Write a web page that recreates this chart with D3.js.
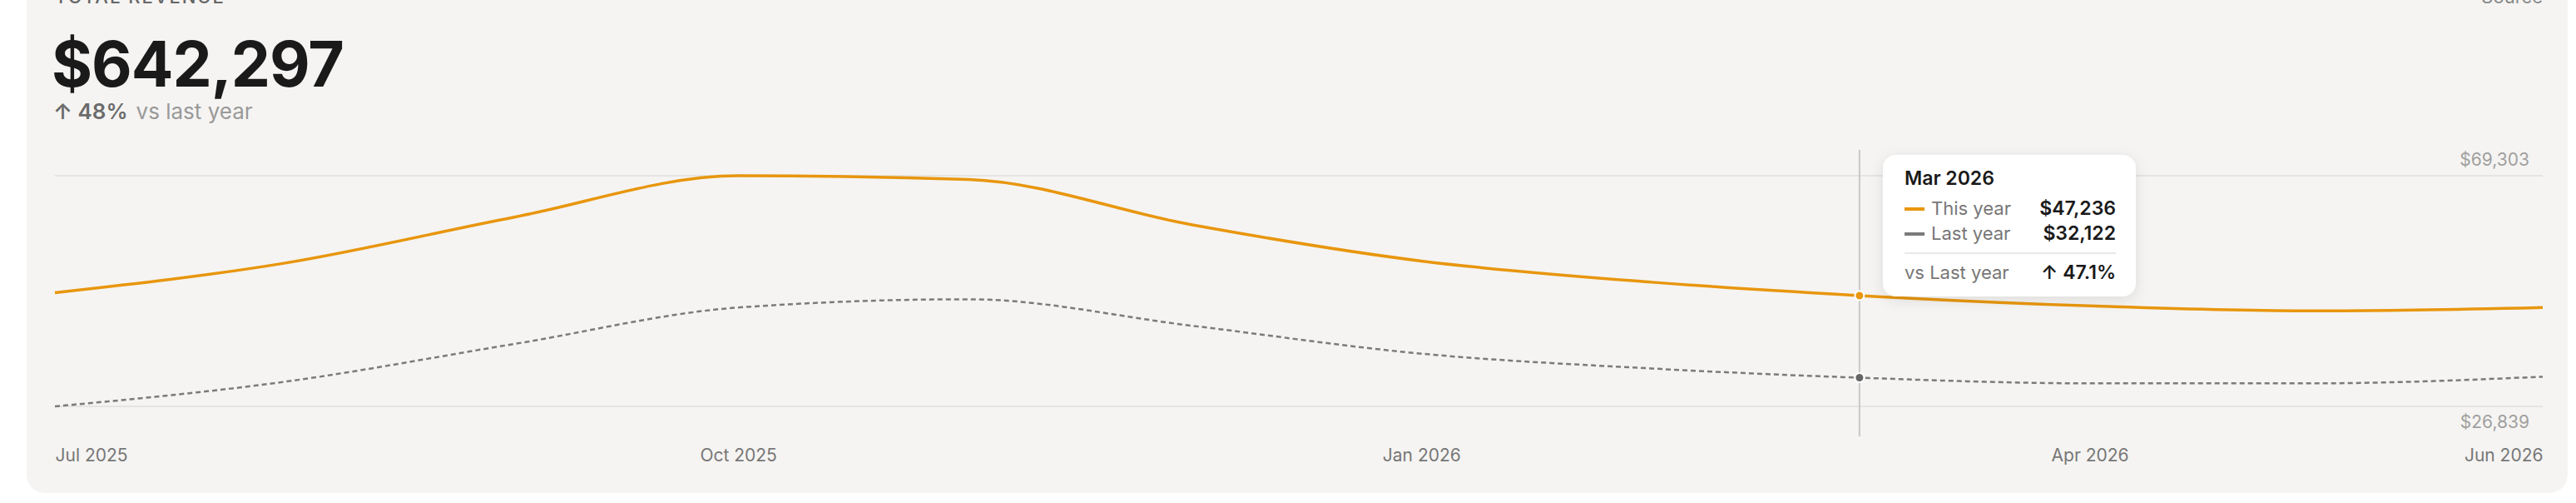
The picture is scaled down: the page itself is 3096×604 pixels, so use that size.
<!DOCTYPE html>
<html>
<head>
<meta charset="utf-8">
<script src="https://cdn.jsdelivr.net/npm/d3@7"></script>
<style>
  body { margin: 0; background: #fff; font-family: Inter, "Noto Sans", sans-serif; }
</style>
</head>
<body>
<svg id="chart" width="3096" height="604"></svg>
<script>
// DATA
const months = ['2025-07','2025-08','2025-09','2025-10','2025-11','2025-12','2026-01','2026-02','2026-03','2026-04','2026-05','2026-06'];
const thisYear = [47768, 53228, 61720, 69303, 68600, 60300, 53600, 49700, 47236, 45342, 44433, 45040];
const lastYear = [26839, 31390, 38366, 45040, 46556, 41704, 36547, 33818, 32122, 31087, 31087, 32300];
const tickMonths = ['2025-07','2025-10','2026-01','2026-04','2026-06'];
const totalRevenue = 642297;
const growthPct = 48;
const hoverIndex = 8;

const parse = d3.timeParse('%Y-%m');
const fmtMonth = d3.timeFormat('%b %Y');
const fmtMoney = v => '$' + d3.format(',')(v);

const svg = d3.select('#chart');
const orange = '#e8960e', gray = '#7b7b7b';

// card
svg.append('rect').attr('x', 32).attr('y', -40).attr('width', 3054).attr('height', 632)
  .attr('rx', 22).attr('fill', '#f5f4f2');

svg.append('text').attr('x', 66).attr('y', 4).attr('font-size', 22).attr('letter-spacing', 2)
  .attr('fill', '#666').attr('font-weight', 500).text('TOTAL REVENUE');
svg.append('text').attr('x', 3056).attr('y', 4).attr('font-size', 22).attr('text-anchor', 'end')
  .attr('fill', '#888').text('Source');

svg.append('text').attr('x', 62).attr('y', 104).attr('font-size', 75).attr('font-weight', 700)
  .attr('fill', '#1a1a1a').attr('letter-spacing', -1).text(fmtMoney(totalRevenue));
const sub = svg.append('text').attr('x', 64).attr('y', 143).attr('font-size', 26);
sub.append('tspan').attr('fill', '#6b6b6b').attr('font-weight', 600).text('↑ ' + growthPct + '%');
sub.append('tspan').attr('fill', '#999').attr('dx', 10).text('vs last year');

///////////////////// SCALES /////////////////////
const x = d3.scaleTime().domain([parse(months[0]), parse(months[months.length - 1])]).range([66, 3056]);
const yMin = d3.min(lastYear), yMax = d3.max(thisYear);
const y = d3.scaleLinear().domain([yMin, yMax]).range([488, 211]);

// grid
[yMax, yMin].forEach(v => {
  svg.append('line').attr('x1', 66).attr('x2', 3056).attr('y1', y(v)).attr('y2', y(v))
    .attr('stroke', '#e6e4e1').attr('stroke-width', 2);
});
svg.append('text').attr('x', 3040).attr('y', y(yMax) - 12).attr('text-anchor', 'end')
  .attr('font-size', 21).attr('fill', '#a0a0a0').text(fmtMoney(yMax));
svg.append('text').attr('x', 3040).attr('y', y(yMin) + 26).attr('text-anchor', 'end')
  .attr('font-size', 21).attr('fill', '#a0a0a0').text(fmtMoney(yMin));

// x axis labels
const xAxis = d3.axisBottom(x).tickValues(tickMonths.map(parse)).tickFormat(fmtMonth).tickSize(0);
const gx = svg.append('g').attr('transform', 'translate(0,536)').call(xAxis);
gx.select('.domain').remove();
gx.selectAll('text').attr('font-size', 21).attr('fill', '#777').attr('font-family', 'Inter, sans-serif')
  .attr('text-anchor', (d, i, n) => i === 0 ? 'start' : (i === n.length - 1 ? 'end' : 'middle'));

// crosshair
const hx = x(parse(months[hoverIndex]));
svg.append('line').attr('x1', hx).attr('x2', hx).attr('y1', 180).attr('y2', 524)
  .attr('stroke', '#c8c8c8').attr('stroke-width', 2);

///////////////////// LINES /////////////////////
const line = d3.line().x((d, i) => x(parse(months[i]))).y(d => y(d)).curve(d3.curveMonotoneX);
svg.append('path').datum(lastYear).attr('d', line).attr('fill', 'none')
  .attr('stroke', gray).attr('stroke-width', 2.5).attr('stroke-dasharray', '6,4');
svg.append('path').datum(thisYear).attr('d', line).attr('fill', 'none')
  .attr('stroke', orange).attr('stroke-width', 3.5);

[[thisYear, orange], [lastYear, '#666']].forEach(([s, c]) => {
  svg.append('circle').attr('cx', hx).attr('cy', y(s[hoverIndex])).attr('r', 5.5)
    .attr('fill', c).attr('stroke', '#fff').attr('stroke-width', 2);
});

///////////////////// TOOLTIP /////////////////////
const defs = svg.append('defs');
const f = defs.append('filter').attr('id', 'shadow').attr('x', '-20%').attr('y', '-20%').attr('width', '140%').attr('height', '150%');
f.append('feDropShadow').attr('dx', 0).attr('dy', 4).attr('stdDeviation', 8).attr('flood-color', '#000').attr('flood-opacity', 0.1);

const tt = svg.append('g').attr('transform', 'translate(2263,186)');
tt.append('rect').attr('width', 304).attr('height', 170).attr('rx', 16).attr('fill', '#fff').attr('filter', 'url(#shadow)');
tt.append('text').attr('x', 26).attr('y', 36).attr('font-size', 23).attr('font-weight', 600).attr('fill', '#1a1a1a')
  .text(fmtMonth(parse(months[hoverIndex])));
[['This year', orange, thisYear], ['Last year', gray, lastYear]].forEach(([lab, c, s], i) => {
  const yy = 72 + i * 30;
  tt.append('rect').attr('x', 26).attr('y', yy - 9).attr('width', 24).attr('height', 4).attr('fill', c);
  tt.append('text').attr('x', 58).attr('y', yy).attr('font-size', 22).attr('fill', '#777').text(lab);
  tt.append('text').attr('x', 280).attr('y', yy).attr('text-anchor', 'end').attr('font-size', 23)
    .attr('font-weight', 600).attr('fill', '#1a1a1a').text(fmtMoney(s[hoverIndex]));
});
tt.append('line').attr('x1', 26).attr('x2', 280).attr('y1', 118).attr('y2', 118).attr('stroke', '#e8e8e8').attr('stroke-width', 2);
tt.append('text').attr('x', 26).attr('y', 149).attr('font-size', 22).attr('fill', '#777').text('vs Last year');
const pct = (thisYear[hoverIndex] / lastYear[hoverIndex] - 1) * 100;
tt.append('text').attr('x', 280).attr('y', 149).attr('text-anchor', 'end').attr('font-size', 23)
  .attr('font-weight', 600).attr('fill', '#1a1a1a').text('↑ ' + pct.toFixed(1) + '%');
</script>
</body>
</html>
